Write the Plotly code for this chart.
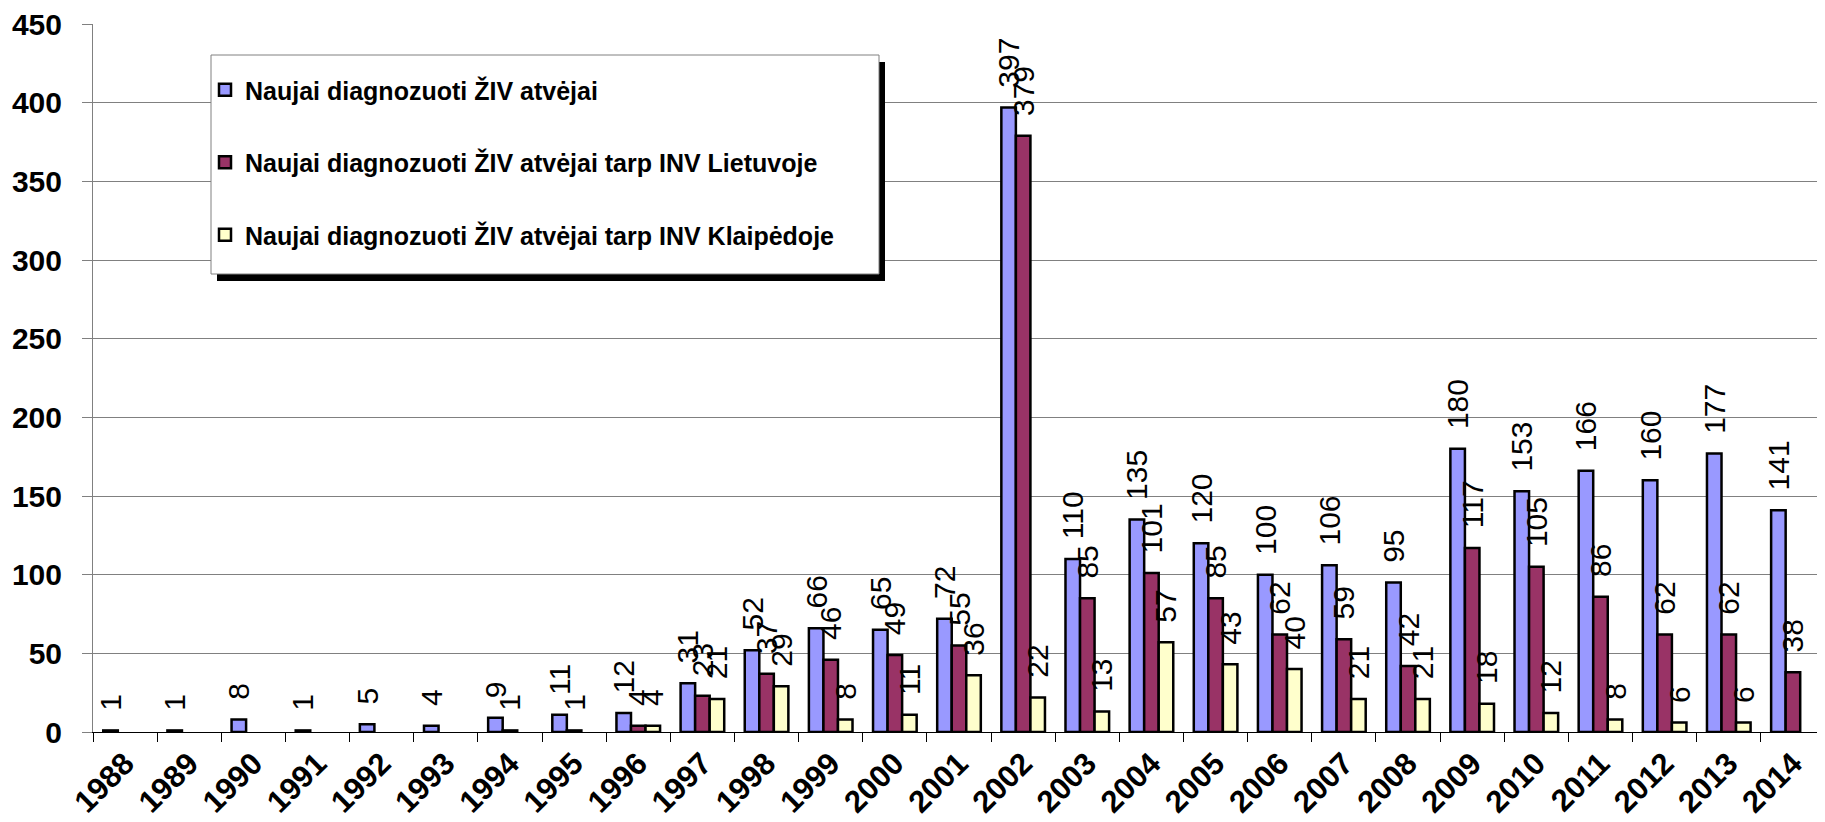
import plotly.graph_objects as go

years = [str(y) for y in range(1988, 2015)]
naujai = [1, 1, 8, 1, 5, 4, 9, 11, 12, 31, 52, 66, 65, 72, 397, 110, 135, 120, 100, 106, 95, 180, 153, 166, 160, 177, 141]
lietuvoje = [None, None, None, None, None, None, 1, 1, 4, 23, 37, 46, 49, 55, 379, 85, 101, 85, 62, 59, 42, 117, 105, 86, 62, 62, 38]
klaipedoje = [None, None, None, None, None, None, None, None, 4, 21, 29, 8, 11, 36, 22, 13, 57, 43, 40, 21, 21, 18, 12, 8, 6, 6, None]

names = [
    "Naujai diagnozuoti ŽIV atvėjai",
    "Naujai diagnozuoti ŽIV atvėjai tarp INV Lietuvoje",
    "Naujai diagnozuoti ŽIV atvėjai tarp INV Klaipėdoje",
]
colors = ["#9999FF", "#993366", "#FFFFCC"]
series = [naujai, lietuvoje, klaipedoje]

OFF = 8  # page body margin
W, H = 1825 - OFF, 822 - OFF
# plot area in page coordinates: x 93..1825, y 24..732
L, R, T, B = 93 - OFF, 0, 24 - OFF, 822 - 732
pw, ph = W - L - R, H - T - B

def px_x(p):  # page px -> paper x
    return (p - OFF - L) / pw

def px_y(p):  # page px -> paper y
    return (H - B - (p - OFF)) / ph

fig = go.Figure()
for i, (nm, col, vals) in enumerate(zip(names, colors, series)):
    txt = ["\u00a0\u00a0" + str(v) if v is not None else "" for v in vals]
    fig.add_trace(go.Bar(
        x=years, y=vals, name=nm, legendgroup=f"g{i}",
        marker=dict(color=col, line=dict(color="black", width=2.5)),
        text=txt, textposition="outside", textangle=-90,
        constraintext="none", cliponaxis=False,
        textfont=dict(family="Liberation Sans, Arial", size=30, color="black"),
    ))

# legend box with shadow (page coordinates)
lx0, ly0, lx1, ly1 = 211, 55, 879, 274
fig.add_shape(type="rect", xref="paper", yref="paper",
              x0=px_x(lx0 + 6), x1=px_x(lx1 + 6), y0=px_y(ly1 + 7), y1=px_y(ly0 + 7),
              fillcolor="black", line=dict(width=0), layer="above")
fig.add_shape(type="rect", xref="paper", yref="paper",
              x0=px_x(lx0), x1=px_x(lx1), y0=px_y(ly1), y1=px_y(ly0),
              fillcolor="white", line=dict(color="#808080", width=1), layer="above")

fig.update_layout(
    width=W, height=H,
    margin=dict(l=L, r=R, t=T, b=B, autoexpand=False),
    paper_bgcolor="white", plot_bgcolor="white",
    barmode="group", bargap=0.32, bargroupgap=0,
    font=dict(family="Liberation Sans, Arial", color="black"),
    legend=dict(
        x=px_x(lx0 - 6), y=px_y(ly0 + 12), xanchor="left", yanchor="top",
        bgcolor="rgba(0,0,0,0)", borderwidth=0,
        font=dict(family="Liberation Sans, Arial", size=25, color="black", weight="bold"),
        tracegroupgap=37, itemclick=False,
    ),
    showlegend=True,
)
fig.update_xaxes(
    type="category", tickangle=-45, automargin=False,
    tickfont=dict(family="Liberation Sans, Arial", size=31, color="black", weight="bold"),
    showline=True, linecolor="black", linewidth=1,
    ticks="outside", ticklen=9, tickcolor="black", tickson="boundaries",
    showgrid=False, ticklabeloverflow="allow",
)
fig.update_yaxes(
    range=[0, 450], dtick=50, automargin=False,
    tickfont=dict(family="Liberation Sans, Arial", size=30, color="black", weight="bold"),
    showline=True, linecolor="#808080", linewidth=1,
    ticks="outside", ticklen=10, tickcolor="#808080",
    showgrid=True, gridcolor="#808080", gridwidth=1,
    zeroline=False, ticklabelstandoff=14, ticklabeloverflow="allow",
)

fig.write_html("out.html")
